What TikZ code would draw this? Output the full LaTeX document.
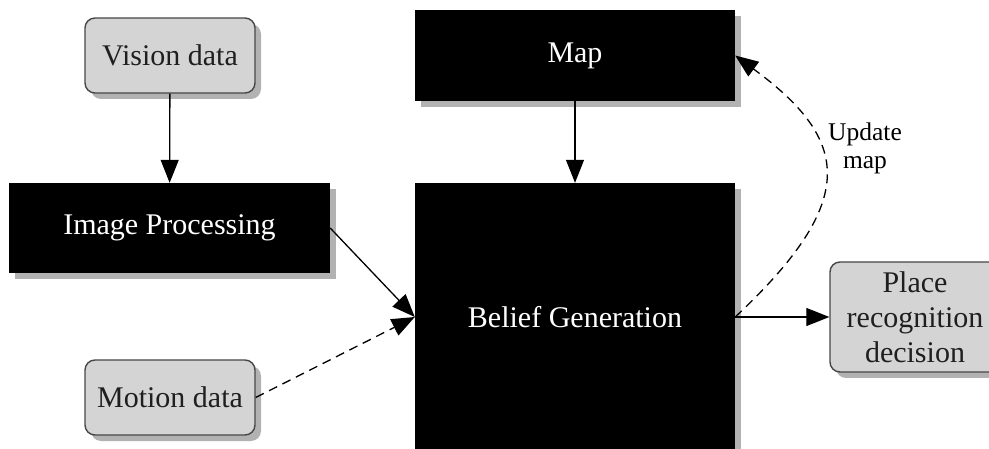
\documentclass[tikz,border=0pt]{standalone}
\usepackage{fontspec}
\setmainfont{Liberation Serif}
\usetikzlibrary{shapes,arrows.meta,positioning,calc,shadows}

\begin{document}
\begin{tikzpicture}[x=1pt, y=-1pt, font=\fontsize{30}{35}\selectfont,
    boxshadow/.style={drop shadow={shadow xshift=6pt, shadow yshift=-6pt, fill=black!30, opacity=1}},
    databox/.style={draw=black!72, line width=1.4pt, fill=black!17, rounded corners=10pt,
        text=black!88, align=center, inner sep=0pt, boxshadow},
    procbox/.style={fill=black, text=white, inner sep=0pt, boxshadow},
    flow/.style={-{Triangle[length=23pt, width=18pt]}, line width=1.3pt},
    guess/.style={flow, dash pattern=on 9pt off 6pt},
    note/.style={font=\fontsize{25.5}{28}\selectfont, align=center, inner sep=0pt}]
    \useasboundingbox (0,0) rectangle (989,449);

    % Sensor inputs
    \node[databox, minimum width=170pt, minimum height=75pt] (vision) at (170, 55.5) {Vision data};
    \node[databox, minimum width=170pt, minimum height=75pt] (motion) at (170, 397.5) {Motion data};

    % Processing blocks
    \node[procbox, minimum width=321pt, minimum height=90pt] (improc) at (169.5, 228) {Image Processing};
    \node[procbox, minimum width=320pt, minimum height=91pt] (map) at (575, 55.5) {Map};
    \node[procbox, minimum width=320pt, minimum height=268pt] (belief) at (575, 317) {Belief Generation};

    % Output
    \node[databox, minimum width=170pt, minimum height=110pt] (place) at (915, 317) {Place\\recognition\\decision};

    % Flow
    \draw[flow] (vision) -- (improc);
    \draw[flow] (map) -- (belief);
    \draw[flow] (improc.east) -- (belief.west);
    \draw[guess] (motion.east) -- (belief.west);
    \draw[flow] (belief.east) -- (place.west);
    \draw[guess] (belief.east) .. controls (860, 200) and (850, 140) .. (map.east);
    \node[note, anchor=west] (upd) at (828, 148) {Update\\map};
\end{tikzpicture}
\end{document}
